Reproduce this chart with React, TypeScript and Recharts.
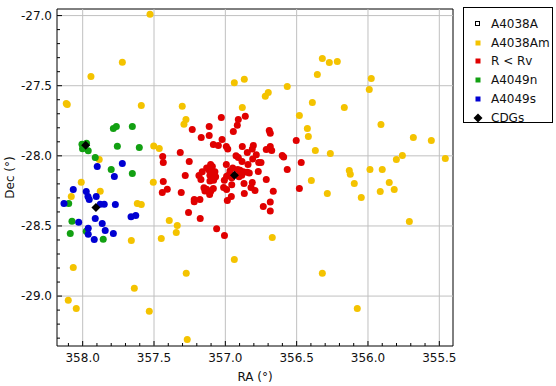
import React from 'react';
import { ScatterChart, Scatter, XAxis, YAxis, ReferenceLine, ReferenceArea } from 'recharts';

// [RA, Dec] pairs per group
const a4038A: [number, number][] = [];

const a4038Am: [number, number][] = [
  [357.528, -26.991], [357.722, -27.333], [357.942, -27.435], [358.115, -27.627], [358.108, -27.634],
  [357.589, -27.641], [357.302, -27.646], [357.276, -27.741], [357.29, -27.775], [356.937, -27.479],
  [356.867, -27.454], [356.881, -27.656], [357.502, -27.929], [357.463, -27.948], [356.32, -27.306],
  [356.271, -27.335], [356.215, -27.328], [356.355, -27.42], [355.977, -27.449], [355.991, -27.527],
  [356.566, -27.506], [356.72, -27.575], [356.699, -27.549], [356.39, -27.62], [356.166, -27.656],
  [356.481, -27.713], [355.909, -27.777], [356.425, -27.805], [356.418, -27.862], [355.682, -27.869],
  [355.556, -27.891], [356.369, -27.962], [356.264, -27.983], [355.759, -27.998], [355.801, -28.026],
  [355.458, -28.019], [356.131, -28.104], [356.124, -28.131], [355.986, -28.097], [355.9, -28.097],
  [356.096, -28.197], [355.851, -28.19], [356.397, -28.176], [355.914, -28.254], [355.816, -28.24],
  [356.285, -28.268], [356.047, -28.297], [355.71, -28.468], [356.32, -28.838], [356.075, -29.088],
  [357.393, -28.461], [357.337, -28.496], [357.344, -28.546], [357.449, -28.589], [356.671, -28.582],
  [356.937, -28.739], [357.505, -28.188], [357.884, -28.026], [358.01, -28.188], [357.877, -28.252],
  [358.08, -28.29], [357.617, -28.34], [357.589, -28.347], [357.659, -28.603], [358.066, -28.796],
  [357.274, -28.838], [357.638, -28.945], [358.101, -29.029], [358.045, -29.088], [357.533, -29.109],
  [357.267, -29.309],
];

const insideRv: [number, number][] = [
  [357.028, -27.727], [356.909, -27.741], [356.86, -27.718], [357.113, -27.791], [356.916, -27.782],
  [357.232, -27.812], [356.944, -27.827], [356.692, -27.819], [356.685, -27.839], [357.169, -27.869],
  [357.113, -27.855], [357.023, -27.884], [356.503, -27.891], [357.084, -27.919], [357.049, -27.926],
  [356.993, -27.933], [356.983, -27.951], [356.881, -27.933], [356.804, -27.926], [356.811, -27.951],
  [356.713, -27.955], [356.685, -27.933], [356.675, -27.962], [357.316, -27.976], [356.846, -27.976],
  [356.783, -27.993], [356.925, -28.0], [356.909, -28.012], [356.808, -28.022], [356.601, -27.998],
  [356.591, -28.008], [357.439, -28.005], [357.253, -28.04], [356.883, -28.04], [356.766, -28.047],
  [356.75, -28.047], [356.841, -28.062], [356.468, -28.047], [357.435, -28.047], [356.993, -28.062],
  [357.103, -28.062], [357.091, -28.076], [356.566, -28.097], [356.769, -28.112], [357.131, -28.086],
  [357.162, -28.114], [357.113, -28.102], [357.073, -28.114], [357.089, -28.119], [356.948, -28.086],
  [356.967, -28.107], [356.913, -28.097], [356.897, -28.102], [356.874, -28.114], [356.846, -28.117],
  [356.832, -28.122], [357.185, -28.14], [357.171, -28.169], [357.108, -28.138], [357.068, -28.15],
  [357.082, -28.174], [356.991, -28.145], [356.972, -28.131], [357.007, -28.174], [356.955, -28.157],
  [356.897, -28.126], [356.885, -28.138], [356.904, -28.15], [356.713, -28.169], [357.108, -28.179],
  [356.955, -28.207], [356.869, -28.197], [356.811, -28.19], [357.15, -28.228], [357.131, -28.238],
  [357.084, -28.233], [357.101, -28.25], [357.143, -28.25], [357.012, -28.226], [356.991, -28.24],
  [356.82, -28.226], [356.792, -28.247], [356.867, -28.268], [356.664, -28.252], [356.958, -28.29],
  [356.986, -28.318], [356.685, -28.33], [357.218, -28.311], [357.218, -28.328], [357.178, -28.312],
  [356.734, -28.361], [356.685, -28.394], [357.176, -28.446], [357.061, -28.52], [357.006, -28.568],
  [356.481, -28.233], [357.435, -28.183], [357.407, -28.238], [357.442, -28.261], [357.309, -28.261],
  [357.281, -28.14], [357.258, -28.404], [357.11, -28.275],
];

const a4049n: [number, number][] = [
  [357.785, -27.805], [357.764, -27.791], [357.652, -27.791], [358.005, -27.917], [357.973, -27.91],
  [358.001, -27.949], [357.961, -27.963], [357.757, -27.931], [357.603, -27.941], [357.912, -28.012],
  [357.8, -28.097], [357.652, -28.126], [358.098, -28.34], [358.075, -28.466], [358.087, -28.553],
  [357.975, -28.537], [357.856, -28.594],
];

const a4049s: [number, number][] = [
  [357.722, -28.055], [357.898, -28.076], [357.778, -28.147], [358.066, -28.24], [357.975, -28.254],
  [357.963, -28.29], [357.905, -28.29], [357.954, -28.311], [358.131, -28.34], [357.877, -28.345],
  [357.849, -28.345], [357.771, -28.347], [357.912, -28.446], [357.863, -28.482], [358.028, -28.473],
  [357.661, -28.435], [357.628, -28.425], [357.961, -28.516], [357.842, -28.532], [357.961, -28.56],
  [357.785, -28.553], [357.919, -28.596],
];

const cdgs: [number, number][] = [
  [357.979, -27.924], [357.907, -28.368], [356.936, -28.138],
];

const raMajor = [358.0, 357.5, 357.0, 356.5, 356.0, 355.5];
const decMajor = [-27.0, -27.5, -28.0, -28.5, -29.0];

const RA_DOMAIN: [number, number] = [355.404, 358.18];
const DEC_DOMAIN: [number, number] = [-29.356, -26.953];

const FONT = '"DejaVu Sans", Verdana, sans-serif';

const steps = (lo: number, hi: number) => {
  const out: number[] = [];
  for (let i = Math.ceil(lo * 10); i <= Math.floor(hi * 10); i++) out.push(i / 10);
  return out;
};
const raTicks = steps(RA_DOMAIN[0], RA_DOMAIN[1]);
const decTicks = steps(DEC_DOMAIN[0], DEC_DOMAIN[1]);
const isMajor = (v: number) => Math.abs(v * 2 - Math.round(v * 2)) < 1e-6;

const toPoints = (rows: [number, number][]) => rows.map(([ra, dec]) => ({ ra, dec }));

const series = [
  { name: 'A4038A', data: a4038A, color: '#000000', kind: 'open' },
  { name: 'A4038Am', data: a4038Am, color: '#f4c300', kind: 'dot' },
  { name: 'R < Rv', data: insideRv, color: '#e00000', kind: 'dot' },
  { name: 'A4049n', data: a4049n, color: '#12a012', kind: 'dot' },
  { name: 'A4049s', data: a4049s, color: '#0000d2', kind: 'dot' },
  { name: 'CDGs', data: cdgs, color: '#000000', kind: 'diamond' },
];

function XTick({ x, y, payload }: any) {
  const major = isMajor(payload.value);
  return (
    <g>
      <line x1={x} x2={x} y1={y} y2={y - (major ? 5 : 3)} stroke="#000" />
      {major && (
        <text x={x} y={y + 16} textAnchor="middle" fontSize={12} fontFamily={FONT} fill="#111">
          {payload.value.toFixed(1)}
        </text>
      )}
    </g>
  );
}

function YTick({ x, y, payload }: any) {
  const major = isMajor(payload.value);
  return (
    <g>
      <line x1={x} x2={x + (major ? 5 : 3)} y1={y} y2={y} stroke="#000" />
      {major && (
        <text x={x - 5} y={y + 4} textAnchor="end" fontSize={12} fontFamily={FONT} fill="#111">
          {payload.value.toFixed(1)}
        </text>
      )}
    </g>
  );
}

const makeShape = (kind: string, color: string) => (props: any) => {
  const { cx, cy } = props;
  if (kind === 'diamond') {
    const r = 4.5;
    return <polygon points={`${cx},${cy - r} ${cx + r},${cy} ${cx},${cy + r} ${cx - r},${cy}`} fill={color} />;
  }
  if (kind === 'open') {
    return <rect x={cx - 2.5} y={cy - 2.5} width={5} height={5} fill="none" stroke={color} />;
  }
  return <circle cx={cx} cy={cy} r={3.5} fill={color} />;
};

function LegendMarker({ kind, color }: { kind: string; color: string }) {
  if (kind === 'diamond') {
    return (
      <svg width={10} height={10} style={{ display: 'block' }}>
        <polygon points="5,0.5 9.5,5 5,9.5 0.5,5" fill={color} />
      </svg>
    );
  }
  if (kind === 'open') {
    return (
      <svg width={10} height={10} style={{ display: 'block' }}>
        <rect x={2.5} y={2.5} width={4} height={4} fill="none" stroke={color} />
      </svg>
    );
  }
  return (
    <svg width={10} height={10} style={{ display: 'block' }}>
      <rect x={2.5} y={2.5} width={5} height={5} fill={color} />
    </svg>
  );
}

export default function App() {
  return (
    <div style={{ position: 'absolute', left: 0, top: 0, width: 556, height: 386, background: '#fff', fontFamily: FONT }}>
      <ScatterChart width={556} height={386} margin={{ top: 9, right: 103, bottom: 0, left: 0 }}>
        <XAxis
          type="number"
          dataKey="ra"
          domain={RA_DOMAIN}
          reversed
          allowDataOverflow
          ticks={raTicks}
          interval={0}
          tickSize={0}
          tickMargin={0}
          tickLine={false}
          axisLine={false}
          tick={<XTick />}
          height={40}
          label={{ value: 'RA (°)', position: 'insideBottom', offset: 5, fontSize: 12, fontFamily: FONT, fill: '#111' }}
        />
        <YAxis
          type="number"
          dataKey="dec"
          domain={DEC_DOMAIN}
          allowDataOverflow
          ticks={decTicks}
          interval={0}
          tickSize={0}
          tickMargin={0}
          tickLine={false}
          axisLine={false}
          tick={<YTick />}
          width={57}
          label={{ value: 'Dec (°)', angle: -90, position: 'insideLeft', offset: 10, fontSize: 12, fontFamily: FONT, fill: '#111', style: { textAnchor: 'middle' } }}
        />
        {raMajor.map((v) => (
          <ReferenceLine key={`gx${v}`} x={v} stroke="#c0c0c0" strokeWidth={1} />
        ))}
        {decMajor.map((v) => (
          <ReferenceLine key={`gy${v}`} y={v} stroke="#c0c0c0" strokeWidth={1} />
        ))}
        <ReferenceArea x1={RA_DOMAIN[0]} x2={RA_DOMAIN[1]} y1={DEC_DOMAIN[0]} y2={DEC_DOMAIN[1]} fill="none" stroke="#000" strokeWidth={1} />
        {series.map((s) => (
          <Scatter
            key={s.name}
            name={s.name}
            data={toPoints(s.data)}
            fill={s.color}
            shape={makeShape(s.kind, s.color)}
            isAnimationActive={false}
          />
        ))}
      </ScatterChart>
      <div
        style={{
          position: 'absolute',
          left: 463,
          top: 7,
          width: 90,
          height: 116,
          border: '1px solid #000',
          boxSizing: 'border-box',
          fontSize: 12,
          color: '#111',
        }}
      >
        {series.map((s, i) => (
          <div key={s.name} style={{ position: 'absolute', left: 9, top: 8 + i * 18.7, height: 16, display: 'flex', alignItems: 'center' }}>
            <LegendMarker kind={s.kind} color={s.color} />
            <span style={{ marginLeft: 8, whiteSpace: 'nowrap' }}>{s.name}</span>
          </div>
        ))}
      </div>
    </div>
  );
}
